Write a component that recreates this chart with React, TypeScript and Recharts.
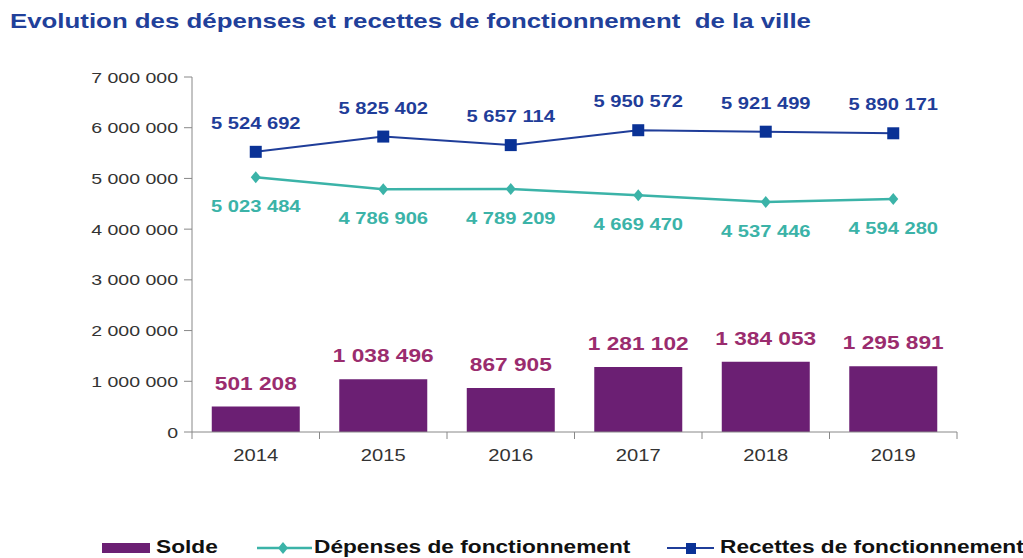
import { Bar, ComposedChart, LabelList, Line, XAxis, YAxis } from 'recharts';

const years = ['2014', '2015', '2016', '2017', '2018', '2019'];
const recettes = [5524692, 5825402, 5657114, 5950572, 5921499, 5890171];
const depenses = [5023484, 4786906, 4789209, 4669470, 4537446, 4594280];
const solde = [501208, 1038496, 867905, 1281102, 1384053, 1295891];
const yTicks = [0, 1000000, 2000000, 3000000, 4000000, 5000000, 6000000, 7000000];

const PURPLE = '#6b1f73';
const PURPLE_TXT = '#9a2c6e';
const TEAL = '#3bb3a8';
const BLUE = '#1f3d99';
const BLUE_MK = '#0a3296';
const FONT = '"Liberation Sans", Arial, sans-serif';
// le graphique d'origine est étiré horizontalement : on élargit les glyphes
const SX = 1.26;

const W = 1023;
const H = 558;
const M = { top: 77, right: 66, bottom: 96, left: 82 };
const Y_W = 110;
const BAND = (W - M.left - Y_W - M.right) / years.length;

const data = years.map((y, i) => ({
  year: y,
  solde: solde[i],
  depenses: depenses[i],
  recettes: recettes[i],
}));

// espace comme séparateur de milliers
const fmt = (v: number) => String(v).replace(/\B(?=(\d{3})+(?!\d))/g, ' ');

function WideText(props: {
  x: number;
  y: number;
  anchor?: 'start' | 'middle' | 'end';
  size: number;
  weight?: number;
  fill: string;
  children: any;
}) {
  return (
    <text
      transform={`translate(${props.x} ${props.y}) scale(${SX} 1)`}
      textAnchor={props.anchor ?? 'middle'}
      fontSize={props.size}
      fontWeight={props.weight ?? 400}
      fill={props.fill}
      fontFamily={FONT}
    >
      {props.children}
    </text>
  );
}

function makeLabel(fill: string, size: number, weight: number, dy: number) {
  return (props: any) => {
    const { x, y, width, value } = props;
    if (x == null || y == null) return null;
    return (
      <WideText x={Number(x) + (Number(width) || 0) / 2} y={Number(y) + dy} size={size} weight={weight} fill={fill}>
        {fmt(Number(value))}
      </WideText>
    );
  };
}

function SquareDot(props: any) {
  const { cx, cy } = props;
  if (cx == null || cy == null) return null;
  return <rect x={cx - 6} y={cy - 6} width={12} height={12} fill={BLUE_MK} />;
}

function DiamondDot(props: any) {
  const { cx, cy } = props;
  if (cx == null || cy == null) return null;
  return (
    <path d={`M${cx},${cy - 6} L${cx + 5},${cy} L${cx},${cy + 6} L${cx - 5},${cy} Z`} fill={TEAL} />
  );
}

function YearTick(props: any) {
  const { x, y, payload, index } = props;
  const axisY = y - 8;
  return (
    <g>
      <line x1={x - BAND / 2} y1={axisY} x2={x - BAND / 2} y2={axisY + 7} stroke="#888" />
      {index === years.length - 1 && (
        <line x1={x + BAND / 2} y1={axisY} x2={x + BAND / 2} y2={axisY + 7} stroke="#888" />
      )}
      <WideText x={x} y={axisY + 29} size={16} fill="#333">
        {payload.value}
      </WideText>
    </g>
  );
}

function ValueTick(props: any) {
  const { x, y, payload } = props;
  return (
    <WideText x={x - 4} y={y + 5.5} anchor="end" size={15.5} fill="#333">
      {fmt(payload.value)}
    </WideText>
  );
}

function LegendItems() {
  const txt = {
    fontWeight: 700,
    fontSize: 18,
    color: '#111',
    fontFamily: FONT,
    position: 'absolute' as const,
    top: 0,
    transform: `scaleX(${SX})`,
    transformOrigin: 'left center',
    whiteSpace: 'pre' as const,
  };
  return (
    <div style={{ position: 'absolute', left: 0, top: 537, width: W, height: 22 }}>
      <svg style={{ position: 'absolute', left: 102, top: 6 }} width={48} height={10}>
        <rect x={0} y={0} width={48} height={10} fill={PURPLE} />
      </svg>
      <span style={{ ...txt, left: 156 }}>Solde</span>
      <svg style={{ position: 'absolute', left: 257, top: 3 }} width={55} height={16}>
        <line x1={0} y1={8} x2={55} y2={8} stroke={TEAL} strokeWidth={2.5} />
        <path d="M26,2 L31,8 L26,14 L21,8 Z" fill={TEAL} />
      </svg>
      <span style={{ ...txt, left: 314 }}>Dépenses de fonctionnement</span>
      <svg style={{ position: 'absolute', left: 667, top: 3 }} width={47} height={16}>
        <line x1={0} y1={8} x2={47} y2={8} stroke={BLUE} strokeWidth={2} />
        <rect x={19} y={3} width={10} height={11} fill={BLUE_MK} />
      </svg>
      <span style={{ ...txt, left: 720 }}>Recettes de fonctionnement</span>
    </div>
  );
}

export default function App() {
  return (
    <div style={{ position: 'absolute', left: 0, top: 0, width: W, height: H, background: '#fff' }}>
      <div
        style={{
          position: 'absolute',
          left: 10,
          top: 9,
          fontFamily: FONT,
          fontWeight: 700,
          fontSize: 20.5,
          color: '#21409a',
          whiteSpace: 'pre',
          transform: `scaleX(${SX})`,
          transformOrigin: 'left center',
        }}
      >
        {'Evolution des dépenses et recettes de fonctionnement  de la ville'}
      </div>
      <ComposedChart width={W} height={H} data={data} margin={M} barCategoryGap="15.5%">
        <XAxis
          dataKey="year"
          height={30}
          stroke="#888"
          tickLine={false}
          tick={<YearTick />}
          interval={0}
        />
        <YAxis
          width={Y_W}
          domain={[0, 7000000]}
          ticks={yTicks}
          interval={0}
          stroke="#888"
          tickSize={8}
          tick={<ValueTick />}
        />
        <Bar dataKey="solde" fill={PURPLE} isAnimationActive={false}>
          <LabelList dataKey="solde" content={makeLabel(PURPLE_TXT, 18, 700, -17)} />
        </Bar>
        <Line
          dataKey="depenses"
          stroke={TEAL}
          strokeWidth={2.5}
          dot={<DiamondDot />}
          activeDot={false}
          isAnimationActive={false}
        >
          <LabelList dataKey="depenses" content={makeLabel(TEAL, 16, 700, 35)} />
        </Line>
        <Line
          dataKey="recettes"
          stroke={BLUE}
          strokeWidth={2}
          dot={<SquareDot />}
          activeDot={false}
          isAnimationActive={false}
        >
          <LabelList dataKey="recettes" content={makeLabel(BLUE, 16, 700, -23)} />
        </Line>
      </ComposedChart>
      <LegendItems />
    </div>
  );
}
